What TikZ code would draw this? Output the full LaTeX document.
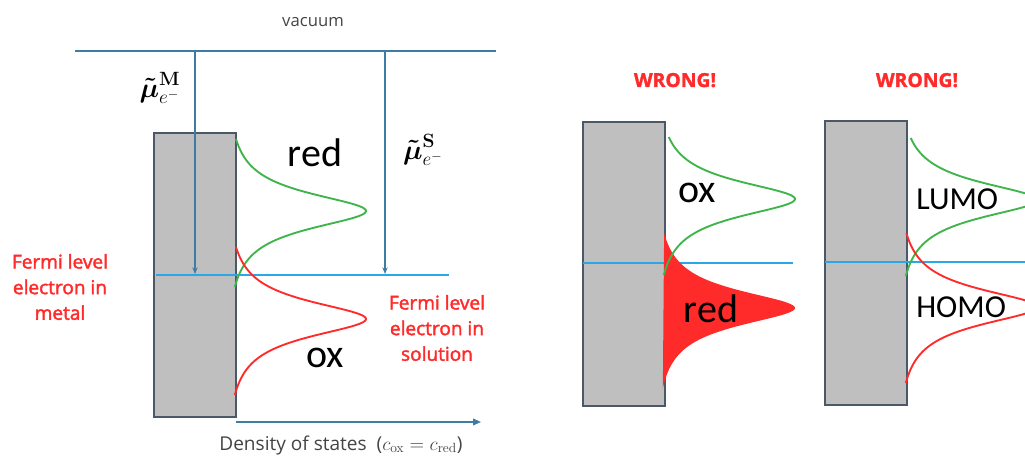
\documentclass[tikz,border=0pt]{standalone}
\usepackage{amsmath}
\usepackage[no-math]{fontspec}
\setmainfont{Carlito}
\newfontfamily\osans{Open Sans}
\newfontfamily\osansmed{Open Sans}[FakeBold=2]
\newfontfamily\osansheavy{Open Sans Bold}[FakeBold=1.5]
\usetikzlibrary{arrows.meta}
\definecolor{vacblue}{HTML}{3E7CA3}
\definecolor{fermiblue}{HTML}{2AA7E6}
\definecolor{dosgreen}{HTML}{3DB54A}
\definecolor{dosred}{HTML}{FF2A2A}
\definecolor{metalgray}{HTML}{BFBFBF}
\definecolor{metaledge}{HTML}{4A5868}
\definecolor{txtgray}{HTML}{444444}
% density-of-states profile: peak offset 130 px, zero at |d| = 72 px
\pgfmathdeclarefunction{dosf}{1}{\pgfmathparse{130*(1/(1+(#1/22)*(#1/22))-0.0854)/0.9146}}
\tikzset{
  metal/.style={draw=metaledge, fill=metalgray, line width=1.2pt, inner sep=0pt, outer sep=0pt,
    anchor=north west, minimum width=61.5pt, minimum height=213pt},
  vacline/.style={draw=vacblue, line width=1.4pt},
  levelarrow/.style={draw=vacblue, line width=1.2pt, -{Stealth[length=5pt,width=4pt]}},
  fermiline/.style={draw=fermiblue, line width=1.6pt},
  greendos/.style={draw=dosgreen, line width=1.4pt},
  reddos/.style={draw=dosred, line width=1.4pt},
  bigtext/.style={font=\fontsize{30}{30}\selectfont, inner sep=0pt, anchor=base},
  orbtext/.style={font=\fontsize{24}{24}\selectfont, inner sep=0pt, anchor=base west},
  redlabel/.style={text=dosred, font=\osansmed\fontsize{14.3}{19.2}\selectfont, align=center, inner sep=0pt},
  wronglabel/.style={text=dosred, font=\osansheavy\fontsize{14.5}{15}\selectfont, inner sep=0pt, anchor=base},
  mulabel/.style={font=\fontsize{20}{20}\selectfont, inner sep=0pt}
}
\begin{document}
\begin{tikzpicture}[x=0.75pt,y=-0.75pt]
\useasboundingbox (0,0) rectangle (1025,456);
\clip (0,0) rectangle (1025,456);

% ---------- left panel ----------
\node[metal] (boxL) at (154,133) {};
\coordinate (vacL) at (75,51);
\coordinate (vacR) at (496,51);
\draw[vacline] (vacL) -- (vacR);
\node[text=txtgray, font=\osans\fontsize{12.5}{12.5}\selectfont, inner sep=0pt] (vac) at (313,22) {vacuum};

\coordinate (fermiLa) at (156,275);
\coordinate (fermiLb) at (449,275);
\draw[fermiline] (fermiLa) -- (fermiLb);

\coordinate (mtop) at (195,51);
\coordinate (mbot) at (195,274);
\coordinate (stop) at (385,51);
\coordinate (sbot) at (385,274);
\draw[levelarrow] (mtop) -- (mbot);
\draw[levelarrow] (stop) -- (sbot);

\draw[greendos] plot[variable=\t, domain=-72:76, samples=160, smooth] ({236+dosf(\t)},{211+\t});
\draw[reddos] plot[variable=\t, domain=-72:76, samples=160, smooth] ({236+dosf(\t)},{319+\t});

\node[bigtext] (redL) at (315,167) {red};
\node[bigtext] (oxL) at (325,367) {ox};

\node[mulabel] (muM) at (160,88) {$\boldsymbol{\tilde{\mu}}^{\mathbf{M}}_{e^-}$};
\node[mulabel] (muS) at (423,150) {$\boldsymbol{\tilde{\mu}}^{\mathbf{S}}_{e^-}$};

\node[redlabel] (fermiM) at (60,287) {Fermi level\\electron in\\metal};
\node[redlabel] (fermiS) at (437,328) {Fermi level\\electron in\\solution};

\coordinate (axA) at (236,422);
\coordinate (axB) at (481,422);
\draw[draw=vacblue, line width=1.2pt, -{Triangle[length=6pt,width=5pt]}] (axA) -- (axB);
\node[text=txtgray, font=\osans\fontsize{14.3}{15}\selectfont, inner sep=0pt, anchor=base] (dos) at (341,450)
  {Density of states\ \ ($c_{\mathrm{ox}} = c_{\mathrm{red}}$)};

% ---------- middle panel ----------
\node[wronglabel] (wrong1) at (675,87) {WRONG!};
\node[metal] (boxM) at (583,122) {};
\coordinate (fermiMa) at (583,263);
\coordinate (fermiMb) at (793,263);
\draw[fermiline] (fermiMa) -- (fermiMb);
\fill[dosred] plot[variable=\t, domain=-75:80, samples=160, smooth] ({665+dosf(\t)},{308+\t}) -- cycle;
\draw[greendos] plot[variable=\t, domain=-62:76, samples=160, smooth] ({665+dosf(\t)},{199+\t});
\node[bigtext] (oxM) at (697,203) {ox};
\node[bigtext] (redM) at (711,322) {red};

% ---------- right panel ----------
\node[wronglabel] (wrong2) at (917,87) {WRONG!};
\node[metal] (boxR) at (825,121) {};
\coordinate (fermiRa) at (825,262);
\coordinate (fermiRb) at (1030,262);
\draw[fermiline] (fermiRa) -- (fermiRb);
\draw[greendos] plot[variable=\t, domain=-62:76, samples=160, smooth] ({907+dosf(\t)},{200+\t});
\draw[reddos] plot[variable=\t, domain=-74:76, samples=160, smooth] ({907+dosf(\t)},{307+\t});
\node[orbtext] (lumo) at (916,210) {LUMO};
\node[orbtext] (homo) at (916,317) {HOMO};
\end{tikzpicture}
\end{document}
